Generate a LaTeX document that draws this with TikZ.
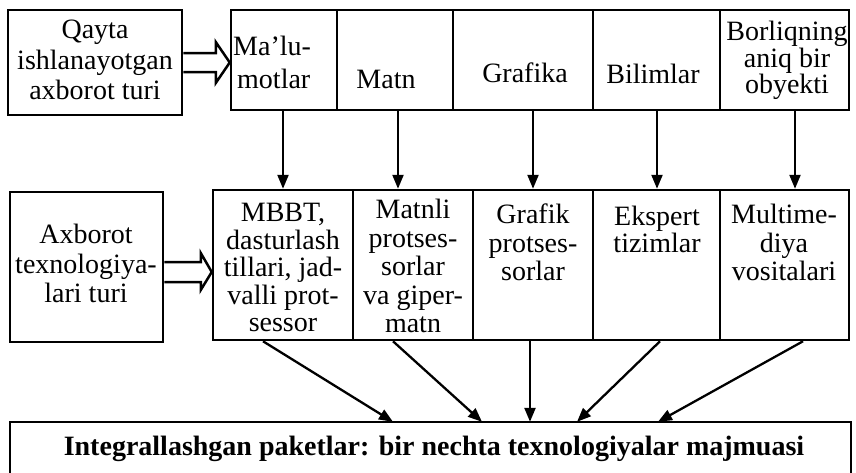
\documentclass[tikz,border=0pt]{standalone}
\usepackage{fontspec}
\setmainfont{Liberation Serif}
\usetikzlibrary{arrows.meta,calc}
\tikzset{
  box/.style={draw, line width=2.5pt, inner sep=0pt, rectangle},
  frame/.style={line width=2.5pt, line join=miter},
  txt/.style={inner sep=0pt, align=center, font=\fontsize{28}{#1}\selectfont},
  txt/.default=28.5,
  arr/.style={line width=2.3pt, -{Triangle[length=14pt,width=11pt]}},
  hol/.style={line width=2.5pt, fill=white, line join=miter},
}
\begin{document}
\begin{tikzpicture}[x=1pt,y=-1pt]
\useasboundingbox (0,0) rectangle (856,472);
\clip (0,0) rectangle (856,472);

% top row
\node[box, minimum width=174pt, minimum height=105pt] (qayta) at (95,62.5) {};
\node[box, minimum width=106pt, minimum height=100pt] (malu) at (284,60) {};
\node[box, minimum width=116pt, minimum height=100pt] (matn) at (395,60) {};
\node[box, minimum width=140pt, minimum height=100pt] (grafika) at (523,60) {};
\node[box, minimum width=127pt, minimum height=100pt] (bilim) at (656.5,60) {};
\node[box, minimum width=129pt, minimum height=100pt] (borliq) at (784.5,60) {};

\node[txt=30.5, anchor=north] (qayta-t) at (95,20) {Qayta\\ishlanayotgan\\axborot turi};
\node[txt, anchor=base west] (malu-t1) at (233,55) {Ma’lu-};
\node[txt, anchor=base west] (malu-t2) at (237,88) {motlar};
\node[txt, anchor=base] (matn-t) at (386,88) {Matn};
\node[txt, anchor=base] (grafika-t) at (525,82) {Grafika};
\node[txt, anchor=base] (bilim-t) at (653,83) {Bilimlar};
\node[txt=24, anchor=north] (borliq-t) at (787,21) {Borliqning\\aniq bir\\obyekti};

% middle row
\node[box, minimum width=153pt, minimum height=150pt] (axb) at (86.5,267) {};
\node[box, minimum width=140pt, minimum height=150pt] (mbbt) at (283,265) {};
\node[box, minimum width=120pt, minimum height=150pt] (matnli) at (413,265) {};
\node[box, minimum width=120pt, minimum height=150pt] (grafik) at (533,265) {};
\node[box, minimum width=127pt, minimum height=150pt] (ekspert) at (656.5,265) {};
\node[box, minimum width=129pt, minimum height=150pt] (multi) at (784.5,265) {};

\node[txt=29.5, anchor=north] (axb-t) at (86,224) {Axborot\\texnologiya-\\lari turi};
\node[txt=27.5, anchor=north] (mbbt-t) at (283,203) {MBBT,\\dasturlash\\tillari, jad-\\valli prot-\\sessor};
\node[txt=28.5, anchor=north] (matnli-t) at (413,199) {Matnli\\protses-\\sorlar\\va giper-\\matn};
\node[txt=28.5, anchor=north] (grafik-t) at (533,204) {Grafik\\protses-\\sorlar};
\node[txt=27, anchor=north] (ekspert-t) at (657,206) {Ekspert\\tizimlar};
\node[txt=28.5, anchor=north] (multi-t) at (784,204) {Multime-\\diya\\vositalari};

% bottom box: its lower edge lies below the picture
\node[minimum width=841pt, minimum height=140pt, inner sep=0pt] (integ) at (430.5,492) {};
\draw[frame] (integ.south west) |- (integ.north east) -- (integ.south east);
\node[inner sep=0pt, font=\fontsize{28}{30}\selectfont\bfseries, anchor=base] (integ-t) at (434,455) {Integrallashgan paketlar: bir nechta texnologiyalar majmuasi};

% hollow arrows
\draw[hol] let \p1=(qayta.east), \p2=(malu.west) in
  (\x1,\y1+9.5pt) -- (\x2-14pt,\y1+9.5pt) -- (\x2-14pt,\y1+20.5pt) -- (\x2,\y1)
  -- (\x2-14pt,\y1-20.5pt) -- (\x2-14pt,\y1-9.5pt) -- (\x1,\y1-9.5pt);
\draw[hol] let \p1=(axb.east), \p2=(mbbt.west) in
  (\x1,\y1+5pt) -- (\x2-11pt,\y1+5pt) -- (\x2-11pt,\y1+14pt) -- (\x2,\y1-5pt)
  -- (\x2-11pt,\y1-23pt) -- (\x2-11pt,\y1-15pt) -- (\x1,\y1-15pt);

% vertical arrows
\coordinate (v1) at ([xshift=-1pt]malu.south);
\coordinate (v2) at ([xshift=3pt]matn.south);
\coordinate (v3) at ([xshift=10pt]grafika.south);
\coordinate (v4) at ([xshift=0.5pt]bilim.south);
\coordinate (v5) at ([xshift=10.5pt]borliq.south);
\draw[arr] (v1) -- (v1 |- mbbt.north);
\draw[arr] (v2) -- (v2 |- matnli.north);
\draw[arr] (v3) -- (v3 |- grafik.north);
\draw[arr] (v4) -- (v4 |- ekspert.north);
\draw[arr] (v5) -- (v5 |- multi.north);

% converging arrows
\draw[arr] ([xshift=-20pt]mbbt.south) -- ([xshift=-37.5pt]integ.north);
\draw[arr] ([xshift=-20pt]matnli.south) -- ([xshift=51.5pt]integ.north);
\draw[arr] ([xshift=-3pt]grafik.south) -- ([xshift=99.5pt]integ.north);
\draw[arr] ([xshift=3.5pt]ekspert.south) -- ([xshift=146.5pt]integ.north);
\draw[arr] ([xshift=18.5pt]multi.south) -- ([xshift=227.5pt]integ.north);
\end{tikzpicture}
\end{document}
